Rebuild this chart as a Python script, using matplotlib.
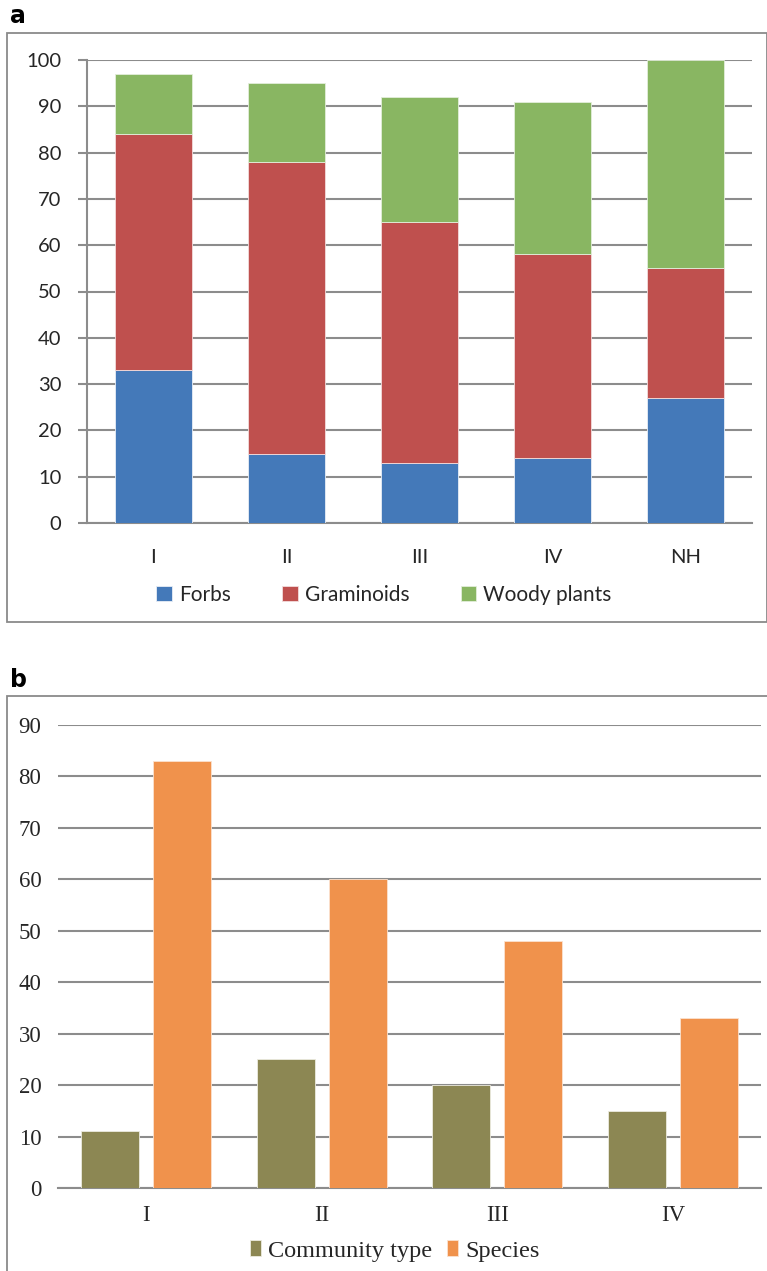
import matplotlib
matplotlib.use('Agg')
import numpy as np
import matplotlib.pyplot as plt
from matplotlib.patches import Rectangle

W, H = 767, 1271
dpi = 100
grid_col = '#8c8c8c'
txt_col = '#262626'

# panel a data (stacked %)
cats_a = ['I', 'II', 'III', 'IV', 'NH']
forbs = [33, 15, 13, 14, 27]
graminoids = [51, 63, 52, 44, 28]
woody = [13, 17, 27, 33, 45]
yticks_a = [0, 10, 20, 30, 40, 50, 60, 70, 80, 90, 100]

# panel b data
cats_b = ['I', 'II', 'III', 'IV']
community = [11, 25, 20, 15]
species = [83, 60, 48, 33]
yticks_b = [0, 10, 20, 30, 40, 50, 60, 70, 80, 90]

fig = plt.figure(figsize=(W / dpi, H / dpi), dpi=dpi)


def px_axes(l, t, r, b):
    return fig.add_axes([l / W, 1 - b / H, (r - l) / W, (b - t) / H])


def box(l, t, r, b):
    fig.patches.append(Rectangle((l / W, 1 - b / H), (r - l) / W, (b - t) / H,
                                 transform=fig.transFigure, fill=False,
                                 edgecolor='#8a8a8a', linewidth=1.3))


# ---- panel a ----
box(6.5, 33, 766.5, 622)
fig.text(10 / W, 1 - 16 / H, 'a', fontsize=17, fontweight='bold',
         family='DejaVu Sans', va='center', ha='left')

ax = px_axes(87, 60, 752, 523)
x = np.arange(len(cats_a))
wa = 0.58
bot2 = np.array(forbs)
bot3 = bot2 + np.array(graminoids)
ax.bar(x, forbs, wa, color='#4479b9', label='Forbs', zorder=3,
       edgecolor='#e8eef6', linewidth=0.6)
ax.bar(x, graminoids, wa, bottom=bot2, color='#bf504e', label='Graminoids',
       zorder=3, edgecolor='#f3dcdc', linewidth=0.6)
ax.bar(x, woody, wa, bottom=bot3, color='#89b662', label='Woody plants',
       zorder=3, edgecolor='#e3eedb', linewidth=0.6)
ax.set_xlim(-0.5, len(cats_a) - 0.5)
ax.set_ylim(0, 100)
ax.set_yticks(yticks_a)
ax.set_xticks(x)
ax.set_xticklabels(cats_a)
ax.yaxis.grid(True, color=grid_col, linewidth=1.5, zorder=0)
ax.set_axisbelow(True)
for s in ['top', 'right']:
    ax.spines[s].set_visible(False)
ax.spines['left'].set_color(grid_col)
ax.spines['left'].set_linewidth(1.5)
ax.spines['bottom'].set_color(grid_col)
ax.spines['bottom'].set_linewidth(1.5)
ax.tick_params(axis='y', length=6.5, width=1.5, color=grid_col, pad=12,
               labelsize=14.5, labelcolor=txt_col)
ax.tick_params(axis='x', length=0, pad=19, labelsize=14.5, labelcolor=txt_col)
for lab in ax.get_xticklabels() + ax.get_yticklabels():
    lab.set_family('Lato')
ax.legend(loc='center', bbox_to_anchor=(384 / W, 1 - 595 / H),
          bbox_transform=fig.transFigure, ncol=3, frameon=False,
          prop={'family': 'Lato', 'size': 15}, handlelength=0.75,
          handleheight=0.75, handletextpad=0.35, columnspacing=2.45,
          labelcolor=txt_col)

# ---- panel b ----
box(6.5, 696, 770, 1275)
fig.text(10 / W, 1 - 680 / H, 'b', fontsize=17, fontweight='bold',
         family='DejaVu Sans', va='center', ha='left')

bx = px_axes(58, 725, 761, 1188)
xb = np.arange(len(cats_b))
wb = 0.33
bx.bar(xb - 0.205, community, wb, color='#8c8753', label='Community type',
       zorder=3, edgecolor='#ecebdf', linewidth=0.6)
bx.bar(xb + 0.205, species, wb, color='#f0924c', label='Species',
       zorder=3, edgecolor='#fbe2cf', linewidth=0.6)
bx.set_xlim(-0.5, len(cats_b) - 0.5)
bx.set_ylim(0, 90)
bx.set_yticks(yticks_b)
bx.set_xticks(xb)
bx.set_xticklabels(cats_b)
bx.yaxis.grid(True, color=grid_col, linewidth=1.5, zorder=0)
bx.set_axisbelow(True)
for s in ['top', 'right', 'left']:
    bx.spines[s].set_visible(False)
bx.spines['bottom'].set_color(grid_col)
bx.spines['bottom'].set_linewidth(1.5)
bx.tick_params(axis='y', length=0, pad=12, labelsize=16.5, labelcolor=txt_col)
bx.tick_params(axis='x', length=0, pad=12, labelsize=16.5, labelcolor=txt_col)
for lab in bx.get_xticklabels() + bx.get_yticklabels():
    lab.set_family('Liberation Serif')
bx.legend(loc='center', bbox_to_anchor=(395 / W, 1 - 1251 / H),
          bbox_transform=fig.transFigure, ncol=2, frameon=False,
          prop={'family': 'Liberation Serif', 'size': 17.5}, handlelength=0.45,
          handleheight=0.6, handletextpad=0.3, columnspacing=0.6,
          labelcolor=txt_col)

plt.savefig('out.png', dpi=dpi)
